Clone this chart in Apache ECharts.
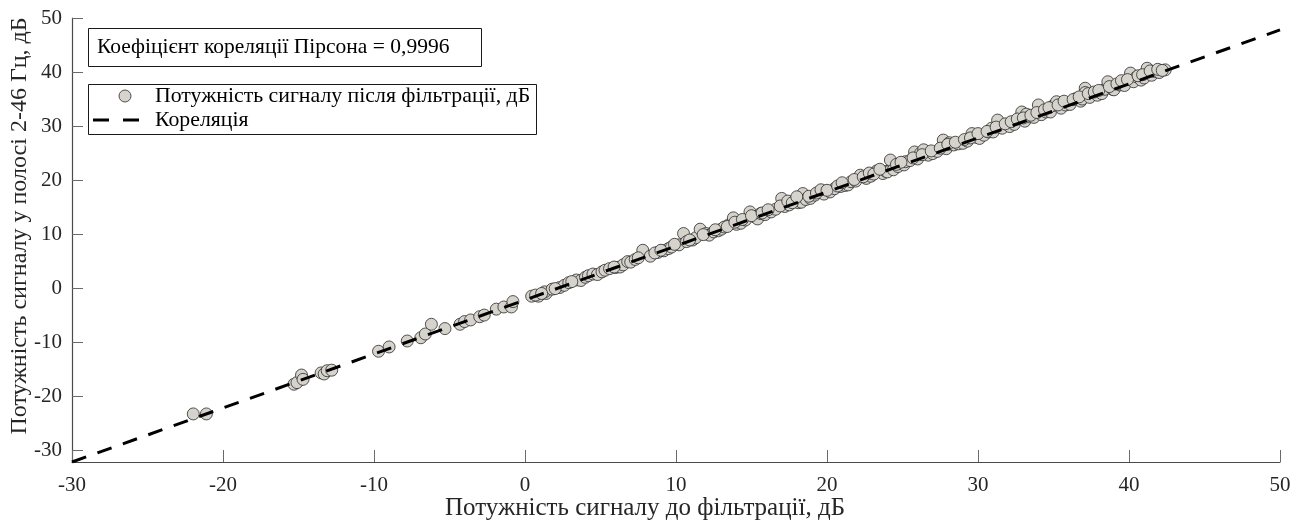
<!DOCTYPE html>
<html>
<head>
<meta charset="utf-8">
<script src="https://cdn.jsdelivr.net/npm/echarts@6/dist/echarts.min.js"></script>
<style>
  html, body { margin: 0; padding: 0; background: #fff; }
  #chart { width: 1304px; height: 522px; }
</style>
</head>
<body>
<div id="chart"></div>
<script>
// Signal power before filtering (x) and in the 2-46 Hz band after filtering (y), dB
const powerBefore = [
  -21.97, -21.1, -15.3, -15.1, -14.8, -14.7, -13.5, -13.3, -13.1, -12.8,
  -9.7, -9.0, -7.8, -6.9, -6.6, -6.2, -5.3, -4.3, -4.0, -3.6, -3.0, -2.7, -1.9, -1.4, -0.9, -0.8,
  0.44, 0.9, 1.4, 1.3, 1.8, 2.3, 2.6, 2.9, 3.4, 3.7, 4.0, 4.2, 4.5, 4.8, 5.1, 5.3, 5.6, 6.0, 6.3, 6.5,
  6.8, 7.0, 7.3, 7.8, 8.3, 8.8, 9.2, 9.5, 9.7, 10.2, 10.5, 10.7, 11.1, 11.3, 11.6, 12.0, 12.2, 12.5,
  12.8, 13.0, 13.5,
  13.2, 13.8, 14.0, 14.3, 14.6, 14.9, 15.2, 15.4, 15.6, 15.9, 16.3, 16.6, 17.0, 17.2, 17.5, 17.9,
  18.1, 18.3, 18.4, 18.6, 18.9, 19.2, 19.5, 19.8, 20.2, 20.5, 20.9, 21.2, 21.4, 21.6, 21.9, 22.2,
  22.6, 22.9, 23.3, 23.7, 23.9, 24.0, 24.2, 24.4, 24.7, 25.1,
  25.2, 25.5, 25.8, 26.0, 26.2, 26.4, 26.7, 27.0, 27.3, 27.7, 27.9, 28.1, 28.4, 28.7, 29.0, 29.3,
  29.6, 29.9, 30.1, 30.4, 30.7, 30.9, 31.0, 31.3, 31.6, 32.1, 32.4, 32.9, 33.1, 33.2, 33.4, 33.7,
  34.0, 34.2, 34.5, 34.8, 35.0, 35.2, 35.5, 35.8, 36.1, 36.5, 36.8, 36.9, 37.1,
  37.1, 37.4, 37.9, 38.2, 38.4, 38.6, 38.9, 39.0, 39.4, 39.7, 40.1, 40.3, 40.5, 40.8, 41.0, 41.2,
  41.5, 41.7, 42.0, 42.4,
  9.9, 10.9, 11.8, 12.6, 13.4, 13.9, 14.4, 15.0, 15.7, 16.1, 16.9, 17.4, 17.7, 18.0, 18.8, 19.3,
  19.6, 20.0, 20.7, 21.0, 21.8, 22.4, 22.8, 23.1, 23.5, 24.6, 24.9, 25.7, 26.3, 26.9, 27.5, 28.0,
  28.5, 29.1, 29.5, 30.0, 30.6, 31.2, 31.8, 32.2, 32.6, 33.0, 33.5, 33.9, 34.4, 34.7, 35.3, 35.7,
  36.3, 36.7, 37.3, 37.7, 38.0, 38.7, 39.2, 39.5, 39.9, 40.6, 40.9, 41.4, 41.9, 42.2,
  2.0, 3.1, 5.9, 7.5, 8.6, 9.0, 0.7, 1.1
];
const powerAfter = [
  -23.3, -23.3, -17.8, -17.5, -16.1, -16.9, -15.7, -15.9, -15.3, -15.2,
  -11.7, -10.9, -9.8, -9.2, -8.5, -6.7, -7.5, -6.7, -6.2, -5.9, -5.3, -5.0, -3.9, -3.5, -3.5, -2.5,
  -1.5, -1.5, -1.0, -0.7, -0.2, 0.1, 0.5, 1.0, 1.5, 1.4, 2.0, 2.3, 2.6, 2.5, 3.0, 3.3, 3.6, 3.8, 3.9, 4.3,
  4.9, 4.8, 5.3, 7.0, 5.9, 6.6, 6.9, 7.3, 7.6, 8.0, 10.1, 8.6, 8.9, 9.3, 10.9, 10.1, 9.8, 10.4,
  10.6, 10.9, 11.7,
  11.3, 13.0, 11.8, 12.0, 12.6, 14.1, 13.2, 12.8, 13.8, 13.6, 14.1, 14.6, 16.6, 15.1, 15.4, 16.3,
  15.8, 15.9, 17.5, 16.4, 16.6, 17.2, 17.8, 17.4, 17.8, 18.4, 18.8, 19.0, 19.1, 19.7, 19.8, 20.9,
  20.3, 20.7, 21.7, 21.2, 21.6, 21.5, 23.7, 21.9, 22.5, 22.8,
  23.4, 23.6, 25.2, 23.9, 25.0, 25.6, 24.6, 24.9, 25.3, 27.4, 25.8, 26.9, 26.5, 26.7, 26.8, 27.2,
  28.6, 27.9, 27.7, 28.3, 28.9, 29.6, 28.9, 31.1, 29.6, 29.9, 30.3, 32.6, 30.9, 32.2, 31.7, 31.6,
  33.9, 32.1, 32.6, 32.6, 33.8, 34.5, 33.3, 33.9, 34.0, 35.1, 34.6, 35.0, 37.0,
  36.2, 35.3, 35.7, 36.0, 36.8, 38.2, 36.8, 36.7, 37.6, 37.5, 39.8, 38.2, 39.1, 38.5, 38.9, 40.7,
  39.4, 40.1, 39.9, 40.4,
  8.1, 8.9, 9.9, 10.8, 11.4, 12.2, 12.7, 13.4, 13.9, 14.5, 15.2, 16.1, 15.8, 16.9, 17.0, 17.6,
  18.2, 18.1, 18.9, 19.5, 20.1, 20.6, 21.3, 21.1, 22.0, 22.9, 23.3, 24.1, 24.7, 25.4, 25.9, 26.6,
  27.0, 27.5, 27.8, 28.6, 29.0, 29.8, 30.4, 30.8, 31.3, 31.5, 32.0, 32.5, 33.0, 33.4, 33.9, 34.6,
  34.9, 35.4, 36.0, 36.3, 36.6, 37.3, 37.8, 38.4, 38.6, 39.3, 39.5, 40.2, 40.5, 40.3,
  -0.1, 1.2, 3.9, 5.6, 6.5, 7.0, -1.3, -1.0
];

// End points of the Pearson correlation line
const fitX = [-30, 50];
const fitY = [-32.2, 47.8];

const xTicks = [-30, -20, -10, 0, 10, 20, 30, 40, 50];
const yTicks = [-30, -20, -10, 0, 10, 20, 30, 40, 50];

const pearsonText = 'Коефіцієнт кореляції Пірсона = 0,9996';
const scatterName = 'Потужність сигналу після фільтрації, дБ';
const lineName = 'Кореляція';
const xTitle = 'Потужність сигналу до фільтрації, дБ';
const yTitle = 'Потужність сигналу у полосі 2-46 Гц, дБ';

const FONT = '"Liberation Serif", "DejaVu Serif", serif';
const AXIS_COLOR = '#4a4a4a';
const TEXT_COLOR = '#262626';
const MARKER_FILL = '#d6d3cc';
const MARKER_EDGE = '#2b2b2b';

const scatterData = powerBefore.map((x, i) => [x, powerAfter[i]]);
const fitData = fitX.map((x, i) => [x, fitY[i]]);

const chart = echarts.init(document.getElementById('chart'), null, { renderer: 'canvas' });

chart.setOption({
  animation: false,
  backgroundColor: '#ffffff',
  grid: { left: 72, right: 24, top: 18, bottom: 60, containLabel: false },
  xAxis: {
    type: 'value',
    min: xTicks[0],
    max: xTicks[xTicks.length - 1],
    interval: 10,
    axisLine: { show: true, onZero: false, lineStyle: { color: AXIS_COLOR, width: 1.2 } },
    axisTick: { show: true, inside: true, length: 12, lineStyle: { color: '#6a6a6a', width: 1 } },
    axisLabel: { color: TEXT_COLOR, fontFamily: FONT, fontSize: 21, margin: 13 },
    splitLine: { show: false }
  },
  yAxis: {
    type: 'value',
    min: fitY[0],
    max: yTicks[yTicks.length - 1],
    axisLine: { show: true, onZero: false, lineStyle: { color: AXIS_COLOR, width: 1.2 } },
    axisTick: { show: true, inside: true, length: 11, customValues: yTicks, lineStyle: { color: '#6a6a6a', width: 1 } },
    axisLabel: { color: TEXT_COLOR, fontFamily: FONT, fontSize: 21, margin: 10, customValues: yTicks },
    splitLine: { show: false }
  },
  series: [
    {
      name: scatterName,
      type: 'scatter',
      data: scatterData,
      symbol: 'circle',
      symbolSize: 12,
      itemStyle: { color: MARKER_FILL, borderColor: MARKER_EDGE, borderWidth: 0.8, opacity: 1 },
      z: 2
    },
    {
      name: lineName,
      type: 'line',
      data: fitData,
      showSymbol: false,
      symbol: 'none',
      lineStyle: { color: '#000', width: 3, type: [15, 12] },
      z: 3
    }
  ],
  graphic: [
    // Pearson coefficient box
    {
      type: 'rect', left: 88, top: 28, z: 10,
      shape: { width: 393, height: 38 },
      style: { fill: '#fff', stroke: '#1a1a1a', lineWidth: 1 }
    },
    {
      type: 'text', x: 97, y: 47, z: 11,
      style: { text: pearsonText, fill: '#000', font: '21.5px ' + FONT, verticalAlign: 'middle' }
    },
    // Series legend box
    {
      type: 'rect', left: 88, top: 84, z: 10,
      shape: { width: 448, height: 50 },
      style: { fill: '#fff', stroke: '#1a1a1a', lineWidth: 1 }
    },
    {
      type: 'circle', z: 11,
      shape: { cx: 125, cy: 96, r: 6 },
      style: { fill: MARKER_FILL, stroke: MARKER_EDGE, lineWidth: 0.8 }
    },
    {
      type: 'text', x: 155, y: 96, z: 11,
      style: { text: scatterName, fill: '#000', font: '21.8px ' + FONT, verticalAlign: 'middle' }
    },
    {
      type: 'line', z: 11,
      shape: { x1: 93, y1: 120, x2: 139, y2: 120 },
      style: { stroke: '#000', lineWidth: 3, lineDash: [16, 14] }
    },
    {
      type: 'text', x: 155, y: 120, z: 11,
      style: { text: lineName, fill: '#000', font: '21.8px ' + FONT, verticalAlign: 'middle' }
    },
    // Axis titles
    {
      type: 'text', x: 645, y: 508, z: 11,
      style: { text: xTitle, fill: TEXT_COLOR, font: '25px ' + FONT, align: 'center', verticalAlign: 'middle' }
    },
    {
      type: 'text', x: 20, y: 226, rotation: Math.PI / 2, z: 11,
      style: { text: yTitle, fill: TEXT_COLOR, font: '24px ' + FONT, align: 'center', verticalAlign: 'middle' }
    }
  ]
});
</script>
</body>
</html>
